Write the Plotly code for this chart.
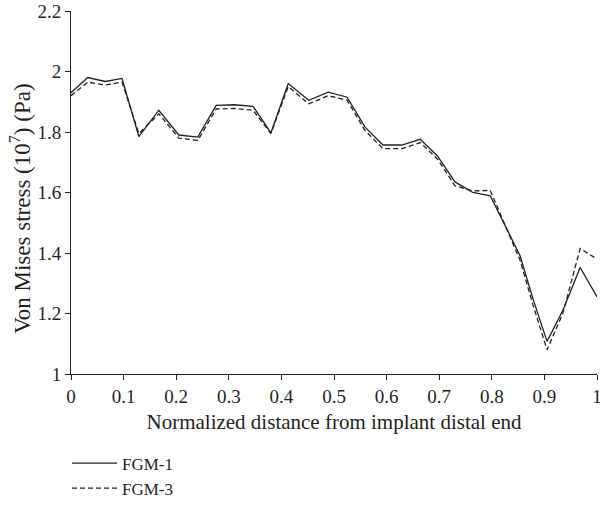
import plotly.graph_objects as go

x_pos = [0, 0.032, 0.065, 0.097, 0.129, 0.167, 0.205, 0.241, 0.276, 0.311,
         0.346, 0.380, 0.413, 0.452, 0.489, 0.525, 0.559, 0.593, 0.629, 0.664,
         0.697, 0.730, 0.764, 0.797, 0.854, 0.878, 0.905, 0.935, 0.968, 1.0]
fgm1 = [1.93, 1.98, 1.967, 1.977, 1.785, 1.872, 1.79, 1.783, 1.888, 1.89,
        1.885, 1.797, 1.96, 1.905, 1.932, 1.915, 1.816, 1.757, 1.757, 1.776,
        1.72, 1.635, 1.60, 1.589, 1.39, 1.25, 1.108, 1.21, 1.352, 1.255]
fgm3 = [1.92, 1.965, 1.955, 1.965, 1.795, 1.86, 1.78, 1.772, 1.876, 1.878,
        1.872, 1.795, 1.95, 1.893, 1.92, 1.905, 1.805, 1.745, 1.745, 1.765,
        1.71, 1.622, 1.605, 1.607, 1.375, 1.23, 1.08, 1.2, 1.415, 1.38]
x_ticks = [0, 0.1, 0.2, 0.3, 0.4, 0.5, 0.6, 0.7, 0.8, 0.9, 1]
x_labels = ["0", "0.1", "0.2", "0.3", "0.4", "0.5", "0.6", "0.7", "0.8", "0.9", "1"]
y_ticks = [1, 1.2, 1.4, 1.6, 1.8, 2, 2.2]
y_labels = ["1", "1.2", "1.4", "1.6", "1.8", "2", "2.2"]
y_title = "Von Mises stress (10<sup>7</sup>) (Pa)"
x_title = "Normalized distance from implant distal end"

ink = "#231f20"
font = "Liberation Serif"
fs = 19

fig = go.Figure()
fig.add_trace(go.Scatter(x=x_pos, y=fgm1, mode="lines", name="FGM-1",
                         line=dict(color=ink, width=1.3)))
fig.add_trace(go.Scatter(x=x_pos, y=fgm3, mode="lines", name="FGM-3",
                         line=dict(color=ink, width=1.3, dash="5px,3px")))

fig.update_layout(
    width=600, height=510,
    margin=dict(l=71, r=3, t=11, b=134),
    plot_bgcolor="white", paper_bgcolor="white",
    font=dict(family=font, size=fs, color=ink),
    showlegend=True,
    legend=dict(x=-0.0076, y=-0.197, xanchor="left", yanchor="top",
                orientation="v", itemwidth=45, tracegroupgap=0,
                font=dict(family=font, size=17, color=ink),
                bgcolor="rgba(0,0,0,0)"),
    xaxis=dict(range=[0, 1], tickvals=x_ticks, ticktext=x_labels,
               automargin=False, ticklabeloverflow="allow",
               showgrid=False, zeroline=False, showline=True, linecolor=ink,
               linewidth=1, ticks="outside", ticklen=5, tickcolor=ink,
               tickfont=dict(family=font, size=fs, color=ink),
               title=dict(text=x_title,
                          font=dict(family=font, size=21, color=ink), standoff=8)),
    yaxis=dict(range=[1, 2.2], tickvals=y_ticks, ticktext=y_labels,
               automargin=False, ticklabeloverflow="allow",
               showgrid=False, zeroline=False, showline=True, linecolor=ink,
               linewidth=1, ticks="outside", ticklen=5, tickcolor=ink,
               tickfont=dict(family=font, size=fs, color=ink)),
    annotations=[dict(text=y_title, xref="paper", yref="paper",
                      x=-0.095, y=0.455, xanchor="center", yanchor="middle",
                      textangle=-90, showarrow=False,
                      font=dict(family=font, size=23, color=ink))],
)

fig.write_html(
    "out.html",
    config={"displayModeBar": False},
    post_script="document.body.style.margin='0';document.body.style.overflow='hidden';",
)
